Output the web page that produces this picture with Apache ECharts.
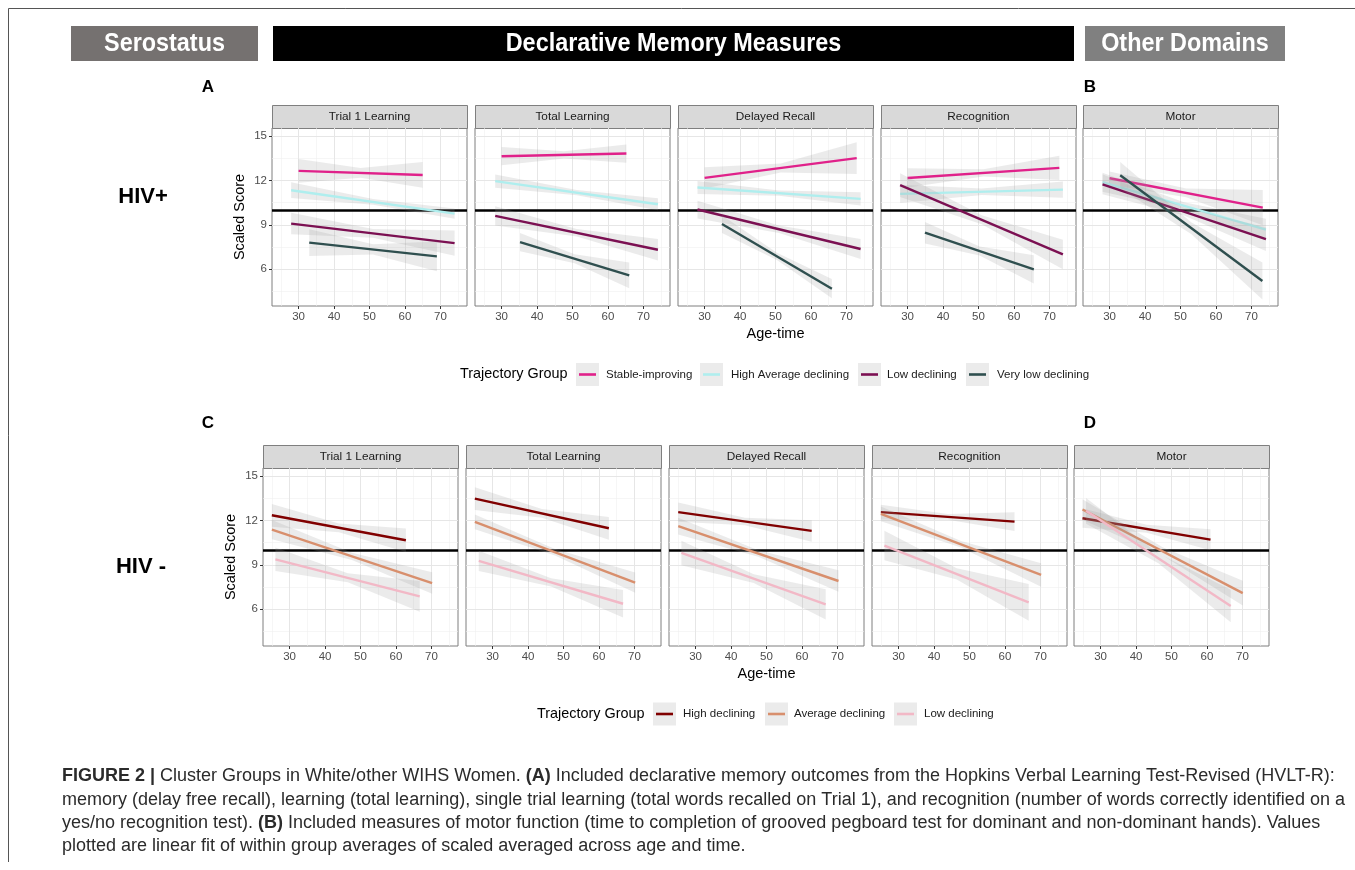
<!DOCTYPE html>
<html><head><meta charset="utf-8">
<script src="https://cdn.jsdelivr.net/npm/echarts@6/dist/echarts.min.js"></script>
<style>html,body{margin:0;padding:0;background:#fff}#c{width:1355px;height:870px}</style>
</head><body><div id="c"></div>
<script>
// ---------- data ----------
const panels = ["Trial 1 Learning", "Total Learning", "Delayed Recall", "Recognition", "Motor"];
const xTicks = [30, 40, 50, 60, 70];
const xMinor = [25, 35, 45, 55, 65, 75];
const yTicks = [6, 9, 12, 15];
const yMinor = [4.5, 7.5, 10.5, 13.5];
const refScore = 10;

const groupsHIVpos = ["Stable-improving", "High Average declining", "Low declining", "Very low declining"];
const colorsHIVpos = ["#E0218A", "#AFEEEE", "#7B1052", "#2F4F4F"];
const groupsHIVneg = ["High declining", "Average declining", "Low declining"];
const colorsHIVneg = ["#800000", "#D88F6D", "#F2B8C6"];

// fitted lines, one entry per panel: [ageStart, scoreStart, ageEnd, scoreEnd]
const stableImprovingLine = [[30,12.65,65,12.37],[30,13.64,65.2,13.82],[30,12.17,72.9,13.51],[30,12.17,72.8,12.85],[30,12.15,73.2,10.16]];
const highAverageLine     = [[27.9,11.34,74,9.75],[28.2,11.95,74.1,10.39],[28,11.52,74,10.75],[27.9,11.09,73.8,11.38],[28,11.88,74.1,8.67]];
const lowDecliningPosLine = [[27.9,9.08,74,7.76],[28.2,9.6,74.1,7.31],[28,10.03,74,7.36],[27.9,11.68,73.8,6.99],[28,11.74,74.1,8.03]];
const veryLowLine         = [[33,7.79,69,6.86],[35.2,7.83,66,5.57],[34.9,9.05,65.9,4.67],[34.9,8.46,65.6,5.98],[33,12.35,73.1,5.19]];
const highDecliningLine   = [[25,12.35,62.8,10.66],[25,13.48,62.8,11.47],[25.1,12.56,62.75,11.29],[25,12.56,62.7,11.92],[24.9,12.15,61,10.7]];
const averageDecliningLine= [[25,11.38,70.2,7.76],[25,11.9,70.2,7.79],[25.1,11.61,70.3,7.9],[25,12.44,70.2,8.31],[24.9,12.74,70.1,7.08]];
const lowDecliningNegLine = [[26,9.37,66.7,6.86],[26.1,9.26,66.8,6.36],[26,9.8,66.7,6.32],[26,10.3,66.7,6.45],[25.9,12.65,66.7,6.2]];

// confidence ribbons per panel: [age, lower, upper] at start, middle, end
const stableImprovingBand = [[30,11.85,13.45,47.5,12.18,12.84,65,11.5,13.24],[30,13.02,14.26,47.6,13.48,13.98,65.2,13.2,14.44],[30,11.45,12.89,51.5,12.54,13.14,72.9,12.44,14.58],[30,11.52,12.82,51.4,12.26,12.76,72.8,12.03,13.67],[30,11.7,12.6,51.6,10.86,11.46,73.2,8.96,11.36]];
const highAverageBand     = [[27.9,10.81,11.87,51,10.35,10.75,74,9.4,10.1],[28.2,11.5,12.4,51.2,10.99,11.35,74.1,9.99,10.79],[28,11.08,11.96,51,10.96,11.32,74,10.3,11.2],[27.9,10.47,11.71,50.9,11.02,11.46,73.8,10.83,11.93],[28,11.24,12.52,51,10.03,10.53,74.1,7.94,9.4]];
const lowDecliningPosBand = [[27.9,8.35,9.81,51,8.12,8.72,74,6.91,8.61],[28.2,8.95,10.25,51.2,8.21,8.71,74.1,6.58,8.04],[28,9.43,10.63,51,8.45,8.95,74,6.68,8.04],[27.9,10.88,12.48,50.9,9.04,9.64,73.8,5.99,7.99],[28,11.06,12.42,51,9.62,10.16,74.1,7.23,8.83]];
const veryLowBand         = [[33,6.89,8.69,51,6.98,7.68,69,5.86,7.86],[35.2,7.21,8.45,50.6,6.4,7.0,66,4.7,6.44],[34.9,8.45,9.65,50.4,6.61,7.11,65.9,4.02,5.32],[34.9,7.73,9.19,50.3,6.92,7.52,65.6,5.02,6.94],[33,11.45,13.25,53,8.37,9.17,73.1,3.94,6.44]];
const highDecliningBand   = [[25,11.58,13.12,43.9,11.2,11.8,62.8,9.86,11.46],[25,12.71,14.25,43.9,12.18,12.78,62.8,10.7,12.24],[25.1,11.91,13.21,43.9,11.68,12.18,62.75,10.56,12.02],[25,12.06,13.06,43.9,12.04,12.44,62.7,11.28,12.56],[24.9,11.5,12.8,43,11.16,11.7,61,9.99,11.41]];
const averageDecliningBand= [[25,10.73,12.03,47.6,9.32,9.82,70.2,7.03,8.49],[25,11.4,12.4,47.6,9.63,10.07,70.2,7.11,8.47],[25.1,11.04,12.18,47.7,9.54,9.98,70.3,7.17,8.63],[25,11.94,12.94,47.6,10.16,10.6,70.2,7.51,9.11],[24.9,12.04,13.44,47.5,9.63,10.19,70.1,6.24,7.92]];
const lowDecliningNegBand = [[26,8.57,10.17,46.4,7.82,8.42,66.7,5.82,7.9],[26.1,8.58,9.94,46.5,7.53,8.09,66.8,5.43,7.29],[26,8.97,10.63,46.4,7.76,8.36,66.7,5.3,7.34],[26,9.3,11.3,46.4,8.0,8.76,66.7,5.21,7.69],[25.9,11.78,13.52,46.3,9.1,9.76,66.7,5.1,7.3]];

const headers = ["Serostatus", "Declarative Memory Measures", "Other Domains"];
const rowLabels = ["HIV+", "HIV -"];
const panelLetters = ["A", "B", "C", "D"];
const captionLines = [
  "{b|FIGURE 2 |} Cluster Groups in White/other WIHS Women. {b|(A)} Included declarative memory outcomes from the Hopkins Verbal Learning Test-Revised (HVLT-R):",
  "memory (delay free recall), learning (total learning), single trial learning (total words recalled on Trial 1), and recognition (number of words correctly identified on a",
  "yes/no recognition test). {b|(B)} Included measures of motor function (time to completion of grooved pegboard test for dominant and non-dominant hands). Values",
  "plotted are linear fit of within group averages of scaled averaged across age and time."
];

// ---------- layout ----------
const FONT = '"Liberation Sans", Arial, Helvetica, sans-serif';
const W = 195, H = 178, STRIP = 23;
const rows = [
  { lefts: [272, 475, 678, 881, 1083], top: 128, groups: groupsHIVpos, colors: colorsHIVpos,
    lines: [stableImprovingLine, highAverageLine, lowDecliningPosLine, veryLowLine],
    bands: [stableImprovingBand, highAverageBand, lowDecliningPosBand, veryLowBand],
    nameGapY: 25, legend: { titleX: 460, cy: 374.5, keys: [576, 700, 858, 966], texts: [606, 731, 887, 997] } },
  { lefts: [263, 466, 669, 872, 1074], top: 468, groups: groupsHIVneg, colors: colorsHIVneg,
    lines: [highDecliningLine, averageDecliningLine, lowDecliningNegLine],
    bands: [highDecliningBand, averageDecliningBand, lowDecliningNegBand],
    nameGapY: 24.5, legend: { titleX: 537, cy: 714, keys: [653, 765, 894], texts: [683, 794, 924] } }
];

function bandRender(params, api) {
  const pts = [];
  [[0, 2], [3, 5], [6, 8]].forEach(([a, b]) => pts.push(api.coord([api.value(a), api.value(b)])));
  [[6, 7], [3, 4], [0, 1]].forEach(([a, b]) => pts.push(api.coord([api.value(a), api.value(b)])));
  return { type: 'polygon', shape: { points: pts }, style: { fill: 'rgba(153,153,153,0.2)' } };
}

const grid = [], xAxis = [], yAxis = [], series = [], graphic = [];
const txt = (x, y, text, size, extra) => Object.assign({ type: 'text', silent: true, x: x, y: y,
  style: Object.assign({ text: text, fill: '#000', fontSize: size, fontFamily: FONT, align: 'center', verticalAlign: 'middle', textAlign: 'center', textVerticalAlign: 'middle' }, extra || {}) });

rows.forEach((row, r) => {
  row.lefts.forEach((left, p) => {
    const gi = r * 5 + p;
    grid.push({ left: left, top: row.top, width: W, height: H, show: true, borderColor: '#7f7f7f', borderWidth: 1, backgroundColor: '#fff' });
    xAxis.push({
      type: 'value', gridIndex: gi, min: 22.5, max: 77.5,
      axisLine: { show: false }, splitLine: { show: false },
      axisTick: { show: true, customValues: xTicks, length: 3, lineStyle: { color: '#333' } },
      axisLabel: { customValues: xTicks, color: '#4d4d4d', fontSize: 11.5, margin: 5, fontFamily: FONT },
      name: p === 2 ? 'Age-time' : '', nameLocation: 'middle', nameGap: 20,
      nameTextStyle: { color: '#000', fontSize: 14.5, fontFamily: FONT }
    });
    yAxis.push({
      type: 'value', gridIndex: gi, min: 3.5, max: 15.55,
      axisLine: { show: false }, splitLine: { show: false },
      axisTick: { show: p === 0, customValues: yTicks, length: 3, lineStyle: { color: '#333' } },
      axisLabel: { show: p === 0, customValues: yTicks, color: '#4d4d4d', fontSize: 11.5, margin: 5, fontFamily: FONT },
      name: p === 0 ? 'Scaled Score' : '', nameLocation: 'middle', nameGap: row.nameGapY,
      nameTextStyle: { color: '#000', fontSize: 14.5, fontFamily: FONT }
    });
    // grid lines
    const gl = [];
    xMinor.forEach(v => gl.push({ xAxis: v, lineStyle: { color: '#f0f0f0', width: 0.6, type: 'solid' } }));
    yMinor.forEach(v => gl.push({ yAxis: v, lineStyle: { color: '#f0f0f0', width: 0.6, type: 'solid' } }));
    xTicks.forEach(v => gl.push({ xAxis: v, lineStyle: { color: '#e6e6e6', width: 1, type: 'solid' } }));
    yTicks.forEach(v => gl.push({ yAxis: v, lineStyle: { color: '#e6e6e6', width: 1, type: 'solid' } }));
    series.push({ type: 'line', xAxisIndex: gi, yAxisIndex: gi, data: [], z: 1, silent: true,
      markLine: { z: 1, silent: true, symbol: ['none', 'none'], label: { show: false }, animation: false, data: gl } });
    // reference line at 10
    series.push({ type: 'line', xAxisIndex: gi, yAxisIndex: gi, data: [], z: 2, silent: true,
      markLine: { z: 2, silent: true, symbol: ['none', 'none'], label: { show: false }, animation: false,
        lineStyle: { color: '#000', width: 2.6, type: 'solid' }, data: [{ yAxis: refScore }] } });
    row.groups.forEach((g, k) => {
      series.push({ type: 'custom', name: g, xAxisIndex: gi, yAxisIndex: gi, z: 3 + 2 * k, silent: true, clip: true,
        renderItem: bandRender, encode: { x: [0, 3, 6], y: [1, 2, 4, 5, 7, 8] }, data: [row.bands[k][p]] });
      const L = row.lines[k][p];
      series.push({ type: 'line', name: g, xAxisIndex: gi, yAxisIndex: gi, z: 4 + 2 * k, silent: true,
        showSymbol: false, symbol: 'none', clip: true,
        lineStyle: { color: row.colors[k], width: 2.4, cap: 'butt', type: 'solid' }, itemStyle: { color: row.colors[k] },
        data: [[L[0], L[1]], [L[2], L[3]]] });
    });
    // strip
    graphic.push({ type: 'rect', silent: true, shape: { x: left + 0.5, y: row.top - STRIP + 0.5, width: W, height: STRIP },
      style: { fill: '#d9d9d9', stroke: '#7f7f7f', lineWidth: 1 } });
    graphic.push(txt(left + W / 2, row.top - STRIP / 2 + 0.5, panels[p], 11.8, { fill: '#1a1a1a' }));
  });
  // legend
  const lg = row.legend;
  graphic.push(txt(lg.titleX, lg.cy, 'Trajectory Group', 14.4, { align: 'left', textAlign: 'left' }));
  row.groups.forEach((g, k) => {
    const kx = lg.keys[k];
    graphic.push({ type: 'rect', silent: true, shape: { x: kx, y: lg.cy - 11.5, width: 23, height: 23 }, style: { fill: '#ebebeb' } });
    graphic.push({ type: 'line', silent: true, shape: { x1: kx + 3, y1: lg.cy, x2: kx + 20, y2: lg.cy }, style: { stroke: row.colors[k], lineWidth: 2.6 } });
    graphic.push(txt(lg.texts[k], lg.cy, g, 11.5, { fill: '#1a1a1a', align: 'left', textAlign: 'left' }));
  });
});

// header boxes
const headerBoxes = [[71, 187, '#757170'], [273, 801, '#000000'], [1085, 200, '#808080']];
headerBoxes.forEach((b, i) => {
  graphic.push({ type: 'rect', silent: true, shape: { x: b[0], y: 26, width: b[1], height: 35 }, style: { fill: b[2] } });
  const t = txt(b[0] + b[1] / 2, 43.5, headers[i], 26, { fill: '#fff', fontWeight: 'bold' });
  t.scaleX = 0.9;
  graphic.push(t);
});
// letters
[[208, 87], [1090, 87], [208, 423], [1090, 423]].forEach((pos, i) => {
  graphic.push(txt(pos[0], pos[1], panelLetters[i], 17, { fontWeight: 'bold' }));
});
// row labels
[[143, 197], [141, 567]].forEach((pos, i) => {
  graphic.push(txt(pos[0], pos[1], rowLabels[i], 22, { fontWeight: 'bold' }));
});
// frame
graphic.push({ type: 'line', silent: true, shape: { x1: 8.5, y1: 8.5, x2: 1355, y2: 8.5 }, style: { stroke: '#555', lineWidth: 1 } });
graphic.push({ type: 'line', silent: true, shape: { x1: 8.5, y1: 8.5, x2: 8.5, y2: 862 }, style: { stroke: '#555', lineWidth: 1 } });
// caption
[776, 800, 823, 846].forEach((y, i) => {
  graphic.push(txt(62, y, captionLines[i], 18, { fill: '#2b2b2b', align: 'left', textAlign: 'left',
    rich: { b: { fontWeight: 'bold', fontSize: 18, fontFamily: FONT, fill: '#2b2b2b' } } }));
});

const chart = echarts.init(document.getElementById('c'), null, { renderer: 'canvas' });
chart.setOption({ animation: false, backgroundColor: '#fff', grid, xAxis, yAxis, series, graphic });
</script>
</body></html>
